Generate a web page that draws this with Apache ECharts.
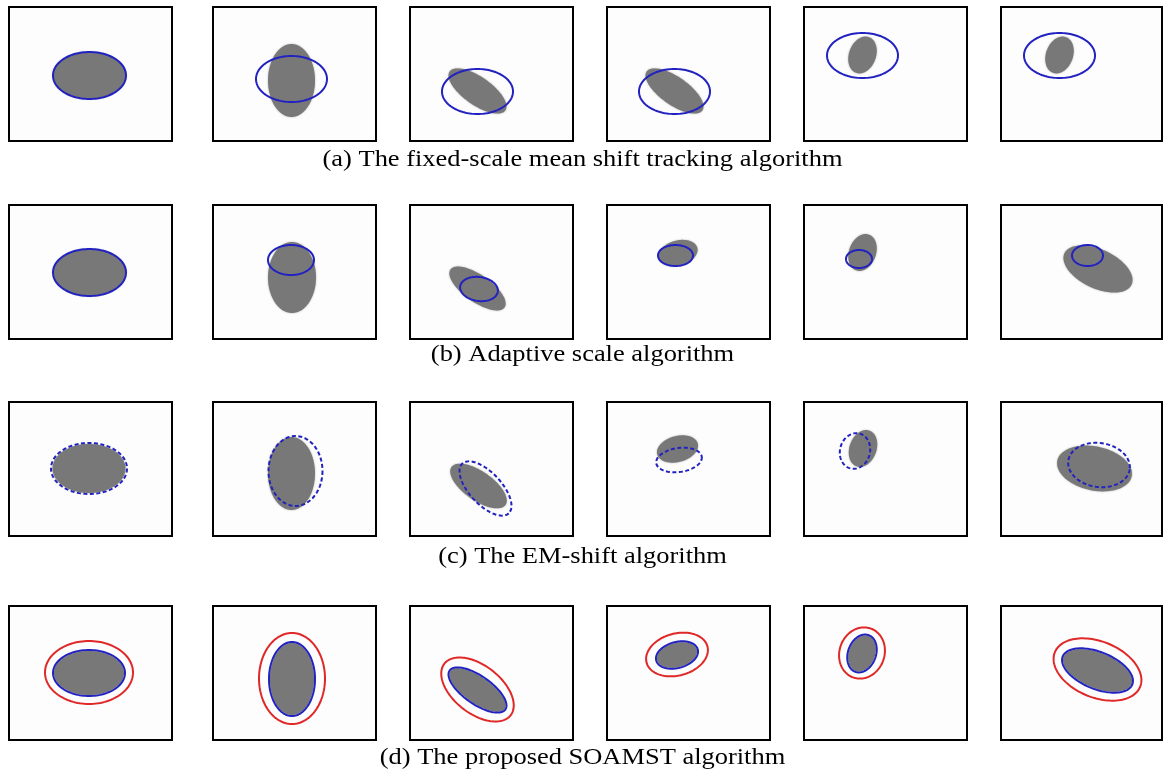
<!DOCTYPE html>
<html><head><meta charset="utf-8">
<script src="https://cdn.jsdelivr.net/npm/echarts@6/dist/echarts.min.js"></script>
<style>html,body{margin:0;padding:0;background:#fff}#c{width:1163px;height:771px}</style>
</head><body><div id="c"></div>
<script>
// Layout of the 4 x 6 panel grid
const panelLefts = [9, 213, 410, 607, 804, 1001];
const panelWidths = [163, 163, 163, 163, 163, 161];
const rowTops = [7, 205, 402, 606];
const panelHeight = 134;
const captions = [
  '(a) The fixed-scale mean shift tracking algorithm',
  '(b) Adaptive scale algorithm',
  '(c) The EM-shift algorithm',
  '(d) The proposed SOAMST algorithm'
];
const captionMiddles = [160, 355, 557, 758];

// Ellipses in panel units: [cx, cy, semiAxisA, semiAxisB, angleDeg]
const targetA = [[80.5,68.5,36.5,23.5,0],[78.5,73.5,23.5,36.5,0],[67.5,84,34,14,35],[67.5,84,34,14,35],[58.5,48,19,13.5,-70],[58.5,48,19,13.5,-70]];
const trackA  = [[80.5,68.5,36.5,23.5,0],[78.5,72,35.5,23,0],[67.5,84.5,35.5,22.5,0],[67.5,84.5,35.5,22.5,0],[58.5,48.5,35.5,22.5,0],[58.5,48.5,35.5,22.5,0]];

const targetB = [[80.5,67.5,36.5,23.5,0],[79,72.5,24,35.5,0],[67.5,83.5,33,13.5,35],[71,48,20,12.5,-15],[58.5,47.5,19,13.5,-70],[97,64,37,19.5,25]];
const trackB  = [[80.5,67.5,36.5,23.5,0],[78,55,23,15,0],[69,84,19,12,8],[68.5,50.5,17.5,10.5,0],[55,54,13,9,0],[86.5,50.5,15.5,10.5,0]];

const targetC = [[80,66.5,36.5,24.5,0],[78.5,71.5,23.5,36.5,0],[68.5,84,33,14.5,35],[70.5,47,21,13,-15],[59,46.5,19,13.5,-70],[93.5,66.5,38,22,12]];
const trackC  = [[80,66.5,38,25.5,0],[82.5,69,27,35,0],[75.5,86.5,34,16,47],[72,58,23,12,-8],[51,49,18,15,-75],[98,63,31,22,8]];

const targetD = [[80,67,35,22,0],[79,73,22,36,0],[67.5,84,33,13,35],[70,49,20.5,12,-15],[58,47.5,18.5,13,-70],[96.5,64.5,36.5,17.5,22]];
const trackD  = [[80,67,36,23,0],[79,73,23,37,0],[67.5,84,34,14,35],[70,49,21.5,13,-15],[58,47.5,19.5,14,-70],[96.5,64.5,37.5,18.5,22]];
const outerD  = [[80,66.5,44,31.5,0],[79,72.5,33,45.5,0],[67.5,83.5,42,24,38],[70,48.5,31.5,21,-15],[58,47,26,22.5,-70],[96.5,63.5,46,28,22]];

const rowTargets = [targetA, targetB, targetC, targetD];
const rowTracks = [trackA, trackB, trackC, trackD];

const GRAY = '#787878', BLUE = '#2222c0', RED = '#e02828';

function ellipseRender(style) {
  return function (params, api) {
    const cx = api.value(0), cy = api.value(1), a = api.value(2), b = api.value(3);
    const t = api.value(4) * Math.PI / 180;
    const pts = [];
    const n = 120;
    for (let i = 0; i < n; i++) {
      const p = 2 * Math.PI * i / n;
      const x = cx + a * Math.cos(p) * Math.cos(t) - b * Math.sin(p) * Math.sin(t);
      const y = cy + a * Math.cos(p) * Math.sin(t) + b * Math.sin(p) * Math.cos(t);
      pts.push(api.coord([x, y]));
    }
    return { type: 'polygon', shape: { points: pts }, style: Object.assign({}, style) };
  };
}

const grids = [], xAxes = [], yAxes = [], series = [];
rowTops.forEach((top, r) => {
  panelLefts.forEach((left, c) => {
    const gi = grids.length;
    grids.push({ left: left, top: top, width: panelWidths[c], height: panelHeight, show: true,
      borderColor: '#000', borderWidth: 2, backgroundColor: '#fdfdfd', containLabel: false });
    xAxes.push({ gridIndex: gi, type: 'value', min: 0, max: panelWidths[c], show: false });
    yAxes.push({ gridIndex: gi, type: 'value', min: 0, max: panelHeight, inverse: true, show: false });
    series.push({ type: 'custom', xAxisIndex: gi, yAxisIndex: gi, silent: true, clip: true,
      data: [rowTargets[r][c]],
      renderItem: ellipseRender({ fill: GRAY, stroke: null, shadowBlur: 2, shadowColor: 'rgba(120,120,120,0.6)' }) });
    const lineStyle = { fill: null, stroke: BLUE, lineWidth: 2 };
    if (r === 2) lineStyle.lineDash = [4, 2.5];
    series.push({ type: 'custom', xAxisIndex: gi, yAxisIndex: gi, silent: true, clip: true,
      data: [rowTracks[r][c]], renderItem: ellipseRender(lineStyle) });
    if (r === 3) {
      series.push({ type: 'custom', xAxisIndex: gi, yAxisIndex: gi, silent: true, clip: true,
        data: [outerD[c]], renderItem: ellipseRender({ fill: null, stroke: RED, lineWidth: 2 }) });
    }
  });
});

const chart = echarts.init(document.getElementById('c'), null, { renderer: 'canvas' });
chart.setOption({
  animation: false,
  backgroundColor: '#ffffff',
  graphic: captions.map((t, i) => ({
    type: 'text', x: 582.5, y: captionMiddles[i], scaleX: 1.15, silent: true,
    style: { text: t, fontFamily: 'Liberation Serif', fontSize: 23, fill: '#000',
      align: 'center', verticalAlign: 'middle', textAlign: 'center', textVerticalAlign: 'middle' }
  })),
  grid: grids, xAxis: xAxes, yAxis: yAxes, series: series
});
</script></body></html>
